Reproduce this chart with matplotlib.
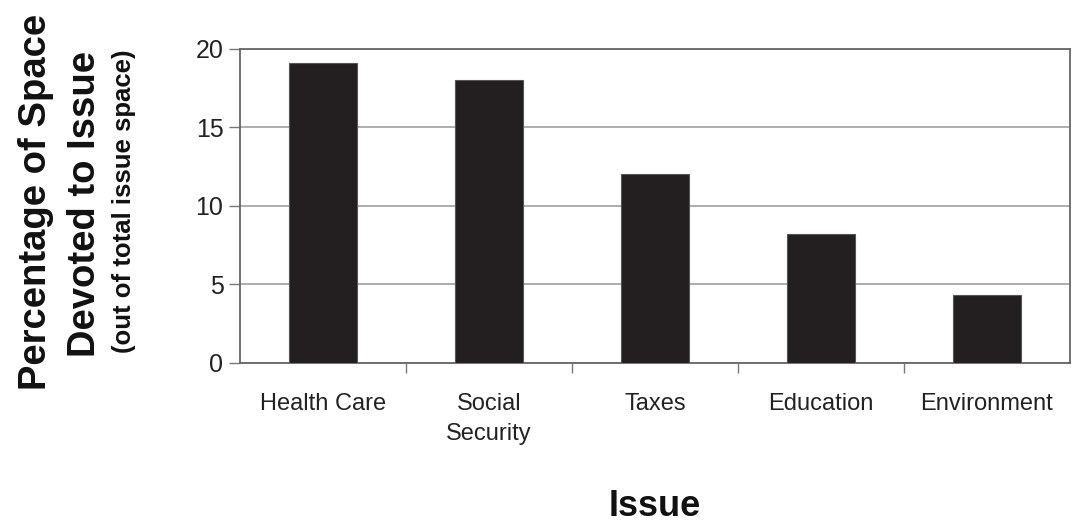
import numpy as np
import matplotlib
matplotlib.use("Agg")
from matplotlib import pyplot as plt

# data
issues = ["Health Care", "Social\nSecurity", "Taxes", "Education", "Environment"]
pct_space = [19.1, 18.0, 12.0, 8.2, 4.3]
y_ticks = [0, 5, 10, 15, 20]

plt.rcParams['font.family'] = ['Liberation Sans', 'DejaVu Sans']

fig = plt.figure(figsize=(10.72, 5.25), dpi=100)
ax = fig.add_axes([0.224, 0.309, 0.774, 0.598])

x = np.arange(len(issues))
ax.bar(x, pct_space, width=0.41, color="#231f20", edgecolor="#555555",
       linewidth=0.8, zorder=3)

ax.set_xlim(-0.5, len(issues) - 0.5)
ax.set_ylim(0, 20)
ax.set_yticks(y_ticks)
ax.grid(axis="y", color="#a0a0a0", linewidth=1.2, zorder=0)

# labels in the middle, tick marks on the category boundaries
ax.set_xticks(x)
ax.set_xticklabels(issues, fontsize=17, color="#222222", linespacing=1.45,
                   va="top")
ax.tick_params(axis="x", which="major", length=0, pad=22)
ax.set_xticks(x[:-1] + 0.5, minor=True)
ax.tick_params(axis="x", which="minor", length=7, width=1, color="#777777",
               direction="out")
ax.tick_params(axis="y", labelsize=18, length=8, width=1, color="#777777",
               labelcolor="#222222", pad=4)

for side in ["left", "bottom", "right", "top"]:
    ax.spines[side].set_color("#666666")
    ax.spines[side].set_linewidth(1.3)

# axis titles
fig.text(0.034, 0.615, "Percentage of Space", rotation=90, ha="center",
         va="center", fontsize=27.5, fontweight="bold", color="#111111")
fig.text(0.079, 0.612, "Devoted to Issue", rotation=90, ha="center",
         va="center", fontsize=27.5, fontweight="bold", color="#111111")
fig.text(0.116, 0.617, "(out of total issue space)", rotation=90, ha="center",
         va="center", fontsize=18.5, fontweight="bold", color="#111111")
fig.text(0.611, 0.035, "Issue", ha="center", va="center", fontsize=26,
         fontweight="bold", color="#111111")

fig.savefig("out.png", dpi=100, facecolor="white")
